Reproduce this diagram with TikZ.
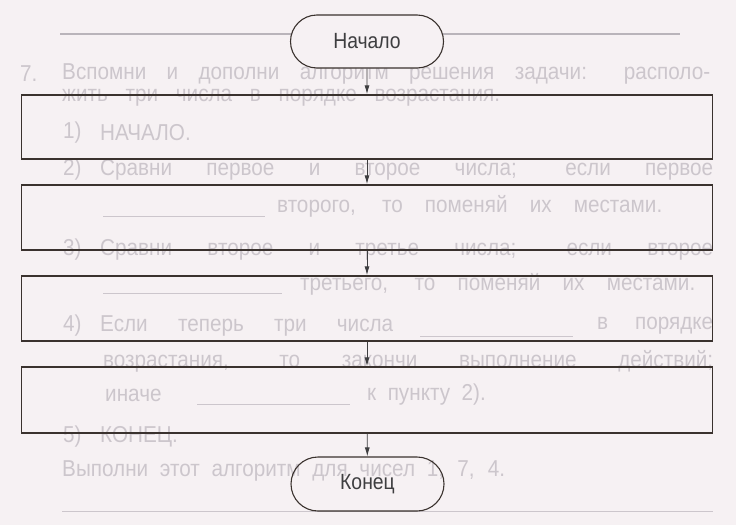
\documentclass[tikz,border=0pt]{standalone}
\usepackage{fontspec}
\setmainfont{Liberation Sans}
\newfontfamily\condfont[FakeStretch=0.88]{Liberation Sans}
\newfontfamily\ghostfont[FakeStretch=0.9]{Liberation Sans}
\usetikzlibrary{shapes.misc,arrows.meta}
\definecolor{paper}{RGB}{246,241,243}
\definecolor{ghost}{RGB}{204,198,204}
\definecolor{rule}{RGB}{185,180,186}
\definecolor{ink}{RGB}{58,50,46}
\definecolor{txt}{RGB}{62,62,64}
\begin{document}
\begin{tikzpicture}[x=1pt,y=-1pt,
  term/.style={rounded rectangle, draw=ink, line width=1.1pt, minimum width=153pt,
    minimum height=53pt, inner sep=0pt, font=\condfont\fontsize{22}{26}\selectfont, text=txt},
  blankbox/.style={rectangle, draw=ink, line width=1.4pt, minimum width=691pt, inner sep=0pt},
  flow/.style={draw=txt, line width=0.9pt, -{Latex[length=9pt,width=5pt]}},
  ghosttext/.style={anchor=west, inner sep=0pt, text=ghost, font=\ghostfont\fontsize{23}{27}\selectfont},
  ghostline/.style={draw=ghost, line width=0.9pt}]
\fill[paper] (0,0) rectangle (736,525);
\useasboundingbox (0,0) rectangle (736,525);

% faint page text behind the diagram
\draw[draw=rule, line width=1.2pt] (60,34) -- (680,34);
\node[ghosttext] (g0) at (20,74) {7.};
\node[ghosttext] (g1) at (62,74) {\makebox[648pt][s]{Вспомни и дополни алгоритм решения задачи: располо-}};
\node[ghosttext] (g2) at (62,98) {\makebox[438pt][s]{жить три числа в порядке возрастания.}};
\node[ghosttext] (g3a) at (63,133) {1)};
\node[ghosttext] (g3b) at (100,133) {НАЧАЛО.};
\node[ghosttext] (g4a) at (63,170) {2)};
\node[ghosttext] (g4b) at (100,170) {\makebox[613pt][s]{Сравни первое и второе числа; если первое}};
\draw[ghostline] (103,216) -- (265,216);
\node[ghosttext] (g5) at (277,206) {\makebox[385pt][s]{второго, то поменяй их местами.}};
\node[ghosttext] (g6a) at (63,250) {3)};
\node[ghosttext] (g6b) at (100,250) {\makebox[613pt][s]{Сравни второе и третье числа; если второе}};
\draw[ghostline] (103,293) -- (282,293);
\node[ghosttext] (g7) at (300,284) {\makebox[395pt][s]{третьего, то поменяй их местами.}};
\node[ghosttext] (g8a) at (63,326) {4)};
\node[ghosttext] (g8b) at (100,326) {\makebox[293pt][s]{Если теперь три числа}};
\draw[ghostline] (420,336) -- (573,336);
\node[ghosttext] (g8c) at (597,326) {\makebox[116pt][s]{в порядке}};
\node[ghosttext] (g9) at (103,361) {\makebox[610pt][s]{возрастания, то закончи выполнение действий;}};
\node[ghosttext] (g10a) at (105,395) {иначе};
\draw[ghostline] (197,404) -- (350,404);
\node[ghosttext] (g10b) at (367,395) {к\ \ пункту\ \ 2).};
\node[ghosttext] (g11a) at (63,437) {5)};
\node[ghosttext] (g11b) at (100,437) {КОНЕЦ.};
\node[ghosttext] (g12) at (62,471) {\makebox[443pt][s]{Выполни этот алгоритм для чисел 1, 7, 4.}};
\draw[ghostline] (62,511) -- (713,511);

% flowchart
\node[term, fill=paper] (start) at (367,41.5) {Начало};
\node[blankbox, minimum height=64pt] (b1) at (367,127) {};
\node[blankbox, minimum height=65pt] (b2) at (367,217.5) {};
\node[blankbox, minimum height=65pt] (b3) at (367,308.5) {};
\node[blankbox, minimum height=66pt] (b4) at (367,400) {};
\node[term, minimum height=54pt] (stop) at (367.5,484) {Конец};

\draw[flow] (start) -- (b1);
\draw[flow] (b1) -- (b2);
\draw[flow] (b2) -- (b3);
\draw[flow] (b3) -- (b4);
\draw[flow] (b4) -- (stop);
\end{tikzpicture}
\end{document}
